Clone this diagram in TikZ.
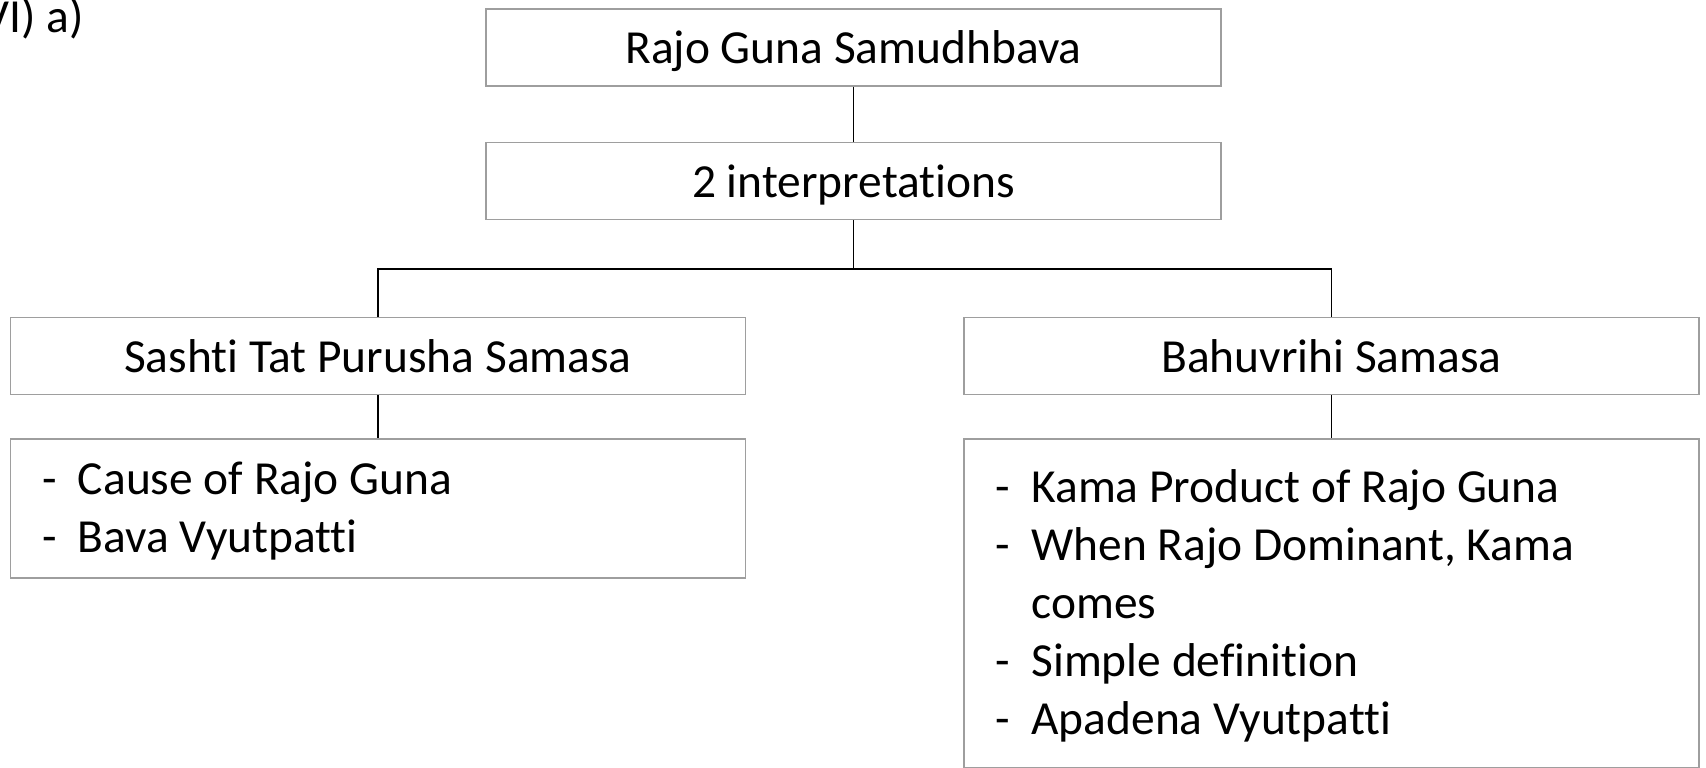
\documentclass[tikz,border=0pt]{standalone}
\usepackage{fontspec}
\setmainfont{Carlito}[Ligatures=NoCommon]
\usetikzlibrary{positioning}

\definecolor{boxgray}{gray}{0.62}

\begin{document}
\begin{tikzpicture}[
        every node/.style={font=\fontsize{27}{32.5}\selectfont},
        header/.style={draw=boxgray, line width=0.8pt, minimum width=14.7cm, minimum height=1.54cm, inner sep=0pt,
                       text height=24.8pt, text depth=6.2pt},
        details/.style={draw=boxgray, line width=0.8pt, minimum width=14.7cm, text width=13.42cm, inner xsep=0.64cm, align=left,
                        font=\fontsize{27}{33}\selectfont, execute at begin node={\spaceskip=0pt\relax}, text depth=9.9pt},
        link/.style={line width=0.8pt}
      ]
        \useasboundingbox (0,0) rectangle (34.12,15.36);

        % Section tag
        \node[anchor=base east] (tag) at (1.8,14.7) {VI) a)};

        % Top of the tree
        \node[header] (title) at (17.07,14.41) {Rajo Guna Samudhbava};
        \node[header, below=1.1cm of title] (interp) {2 interpretations};
        \coordinate[below=0.98cm of interp.south] (split);

        % The two samasa readings
        \node[header] (sashti) at (7.56,8.24) {Sashti Tat Purusha Samasa};
        \node[header, right=4.34cm of sashti] (bahu) {Bahuvrihi Samasa};

        % Their notes (rows are 33pt apart)
        \node[details, minimum height=2.78cm, text height=60.4pt, below=0.86cm of sashti] (sashtinotes) {
            \begin{tabular}[b]{@{}l@{\hspace{0.42cm}}l@{}}
            - & Cause of Rajo Guna \\
            - & Bava Vyutpatti
            \end{tabular}
        };
        \node[details, minimum height=6.58cm, text height=159.4pt, below=0.86cm of bahu] (bahunotes) {
            \begin{tabular}[b]{@{}l@{\hspace{0.42cm}}l@{}}
            - & Kama Product of Rajo Guna \\
            - & When Rajo Dominant, Kama \\
              & comes \\
            - & Simple definition \\
            - & Apadena Vyutpatti
            \end{tabular}
        };

        % Connectors
        \draw[link] (title) -- (interp);
        \draw[link] (interp) -- (split);
        \draw[link] (split) -| (sashti);
        \draw[link] (split) -| (bahu);
        \draw[link] (sashti) -- (sashtinotes);
        \draw[link] (bahu) -- (bahunotes);
    \end{tikzpicture}
\end{document}
